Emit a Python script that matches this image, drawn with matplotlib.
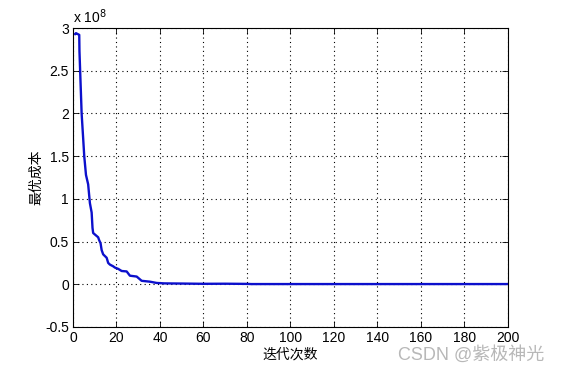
import matplotlib

matplotlib.use("Agg")

import matplotlib.pyplot as plt
from matplotlib.ticker import FuncFormatter, MultipleLocator

plt.rcParams["font.family"] = ["Liberation Sans", "Noto Sans CJK SC", "DejaVu Sans"]
plt.rcParams["axes.unicode_minus"] = False

# iteration number and best cost (units of 1e8)
iteracoes = [1, 1.4, 2.9, 3.0, 4.0, 4.7, 5.2, 6.0, 7.0, 7.8, 8.6, 9.0, 9.3, 10.9,
             11.6, 12.0, 12.7, 13.2, 13.9, 14.7, 15.5, 16.2, 17.0, 18.5, 19.3, 20.8,
             22.4, 24.7, 26.2, 29.3, 31.6, 35.4, 38.5, 42, 50, 60, 70, 80, 82, 100,
             150, 200]
custo = [2.93, 2.94, 2.92, 2.73, 2.00, 1.71, 1.50, 1.28, 1.17, 0.95, 0.84,
         0.66, 0.60, 0.565, 0.55, 0.52, 0.48, 0.40, 0.35, 0.33, 0.31, 0.25, 0.23,
         0.21, 0.195, 0.18, 0.155, 0.15, 0.10, 0.09, 0.04, 0.03, 0.015, 0.01, 0.008,
         0.005, 0.006, 0.004, 0.002, 0.002, 0.002, 0.002]

fig = plt.figure(figsize=(5.61, 3.69), dpi=100)
ax = fig.add_axes([0.130, 0.114, 0.7755, 0.810])

ax.plot(iteracoes, custo, color="#0c10cc", linewidth=1.7)

ax.set_xlim(0, 200)
ax.set_ylim(-0.5, 3)
ax.xaxis.set_major_locator(MultipleLocator(20))
ax.yaxis.set_major_locator(MultipleLocator(0.5))
ax.yaxis.set_major_formatter(FuncFormatter(lambda v, _: f"{v:g}"))
ax.tick_params(direction="in", length=4, width=0.6, labelsize=10,
               top=True, right=True, pad=3)
ax.grid(True, linestyle=(0, (1, 3)), color="black", linewidth=0.8)
for s in ax.spines.values():
    s.set_linewidth(0.8)

ax.text(0.0, 1.008, r"x 10$^{8}$", transform=ax.transAxes, fontsize=10,
        ha="left", va="bottom")
ax.set_xlabel("迭代次数", fontsize=10, family=["Noto Sans CJK SC"], labelpad=2)
ax.set_ylabel("最优成本", fontsize=10, family=["Noto Sans CJK SC"])
ax.yaxis.set_label_coords(-0.068, 0.5)

fig.text(0.97, 0.038, "CSDN @紫极神光", fontsize=13, color="#b8b8b8",
         ha="right", va="center", family=["Liberation Sans", "Noto Sans CJK SC"])

fig.savefig("out.png", dpi=100)
